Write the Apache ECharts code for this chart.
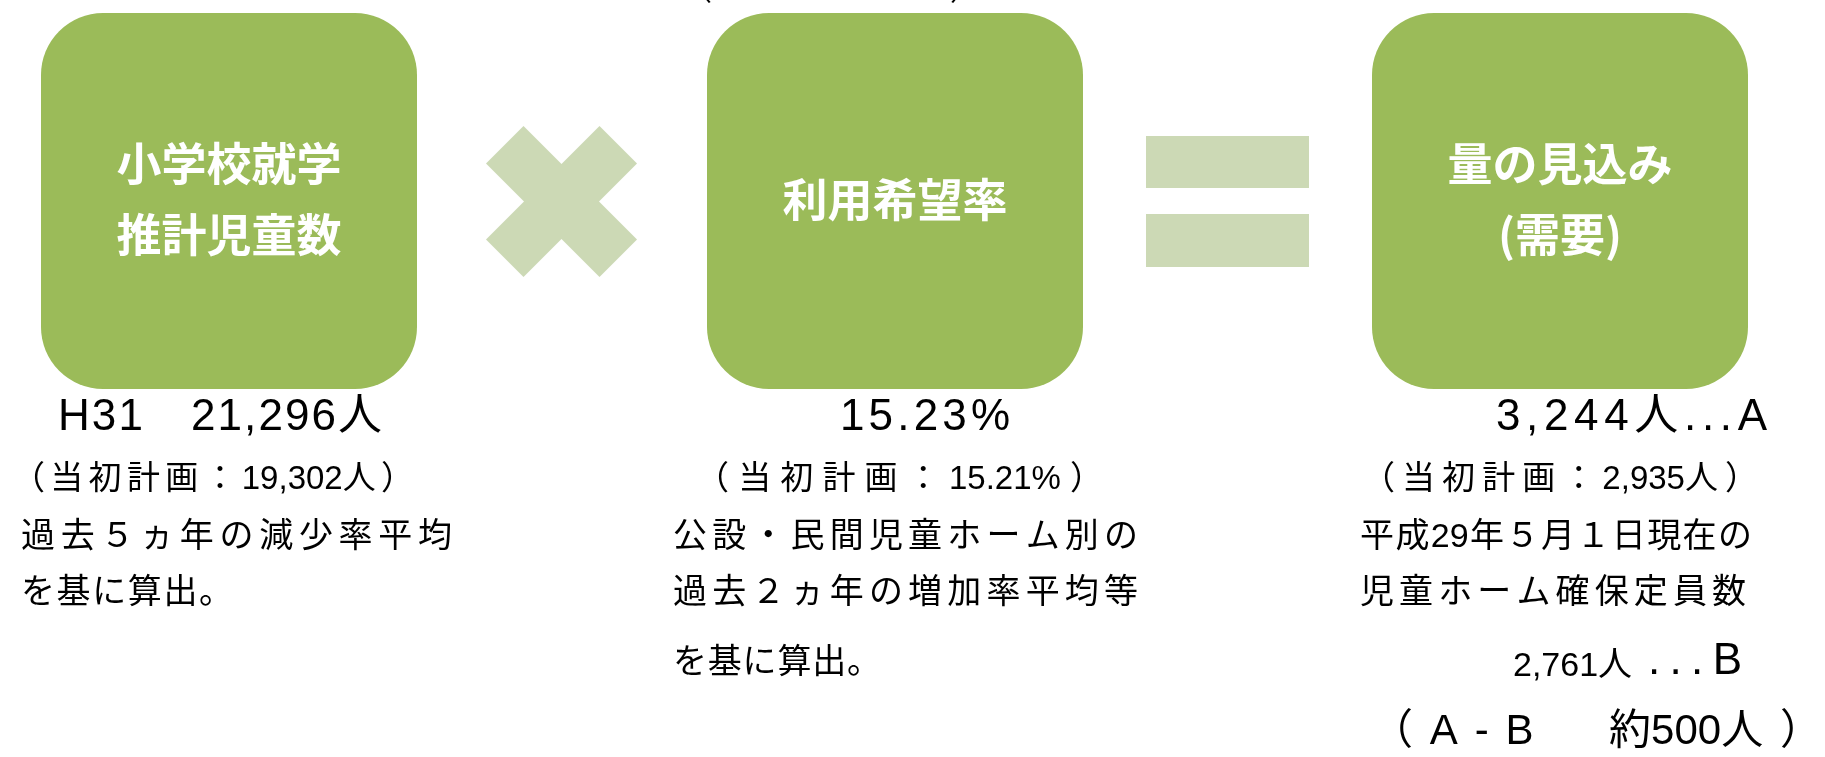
<!DOCTYPE html>
<html>
<head>
<meta charset="utf-8">
<script src="https://cdn.jsdelivr.net/npm/echarts@6/dist/echarts.min.js"></script>
<style>
  html, body { margin: 0; padding: 0; background: #fff; }
  #chart { width: 1825px; height: 757px; }
</style>
</head>
<body>
<div id="chart"></div>
<script>
// 図の文字データ
const boxTitles = [['小学校就学', '推計児童数'], ['利用希望率'], ['量の見込み', '(需要)']];
const mainValues = ['H31　21,296人', '15.23%', '3,244人...A'];
const planValues = ['（当初計画：19,302人）', '（当初計画：15.21%）', '（当初計画：2,935人）'];
const notes = [
  ['過去５ヵ年の減少率平均', 'を基に算出。'],
  ['公設・民間児童ホーム別の', '過去２ヵ年の増加率平均等', 'を基に算出。'],
  ['平成29年５月１日現在の', '児童ホーム確保定員数']
];
const capacityValue = '2,761人';
const capacityMark = '...B';
const gapValue = '（A-B　約500人）';

// レイアウト
const FONT = '"Liberation Sans", "Noto Sans CJK JP", sans-serif';
const boxLeft = [41, 707, 1372];
const boxTop = 13;
const boxSize = 376;
const boxColor = '#9BBB59';
const lightColor = '#CCD9B5';
const titleY = [[164, 235], [200], [164, 235]];
const mainSpan = [[58, 382], [840, 1010], [1496, 1767]];
const planSpan = [[12, 414], [696, 1103], [1362, 1758]];
const noteSpan = [
  [[21, 452], [21, 233]],
  [[673, 1138], [673, 1138], [673, 881]],
  [[1360, 1752], [1360, 1746]]
];
const noteY = [538, 594, 664];

const ctx = document.createElement('canvas').getContext('2d');

// 文字を左右の端に合わせて均等に並べる（数字のかたまりは詰めたまま）
const lineText = (str, left, right, cy, size, spread) => {
  const font = `400 ${size}px ${FONT}`;
  ctx.font = font;
  const parts = spread ? Array.from(str) : str.match(/約?[0-9][0-9,.]*[%人]?|./gu);
  const widths = parts.map(p => ctx.measureText(p).width);
  const total = widths.reduce((a, b) => a + b, 0);
  const gap = parts.length > 1 ? (right - left - total) / (parts.length - 1) : 0;
  let x = left;
  return parts.map((p, i) => {
    const el = {
      type: 'text', x: x, y: cy, silent: true,
      style: { text: p, font: font, fill: '#000', textAlign: 'left', textVerticalAlign: 'middle' }
    };
    x += widths[i] + gap;
    return el;
  });
};

const elements = [];

// 緑の角丸ボックス
boxLeft.forEach((left, i) => {
  elements.push({
    type: 'rect',
    shape: { x: left, y: boxTop, width: boxSize, height: boxSize, r: 62 },
    style: { fill: boxColor }
  });
  boxTitles[i].forEach((t, j) => {
    elements.push({
      type: 'text', x: left + boxSize / 2, y: titleY[i][j],
      style: { text: t, font: `700 45px "Noto Sans CJK JP", sans-serif`, fill: '#fff', textAlign: 'center', textVerticalAlign: 'middle' }
    });
  });
});

// ×記号
const cx = 561.5, cy = 201.5, a = 75.5, b = 38, c = 37.5;
elements.push({
  type: 'polygon',
  shape: {
    points: [[-a, -b], [-b, -a], [0, -c], [b, -a], [a, -b], [c, 0], [a, b], [b, a], [0, c], [-b, a], [-a, b], [-c, 0]]
      .map(p => [cx + p[0], cy + p[1]])
  },
  style: { fill: lightColor }
});

// ＝記号
elements.push({ type: 'rect', shape: { x: 1146, y: 136, width: 163, height: 52 }, style: { fill: lightColor } });
elements.push({ type: 'rect', shape: { x: 1146, y: 214, width: 163, height: 53 }, style: { fill: lightColor } });

// 上端で切れている括弧
elements.push({ type: 'text', x: 682, y: -8, style: { text: '（', font: `400 30px ${FONT}`, fill: '#000', textVerticalAlign: 'middle' } });
elements.push({ type: 'text', x: 950, y: -8, style: { text: '）', font: `400 30px ${FONT}`, fill: '#000', textVerticalAlign: 'middle' } });

// 下の説明文
mainValues.forEach((t, i) => elements.push(...lineText(t, mainSpan[i][0], mainSpan[i][1], 418, 44, true)));
planValues.forEach((t, i) => elements.push(...lineText(t, planSpan[i][0], planSpan[i][1], 480, 33, false)));
notes.forEach((col, i) => col.forEach((t, j) => {
  elements.push(...lineText(t, noteSpan[i][j][0], noteSpan[i][j][1], noteY[j], 34, false));
}));
elements.push(...lineText(capacityValue, 1513, 1640, 667, 34, false));
elements.push(...lineText(capacityMark, 1648, 1742, 662, 44, true));
elements.push(...lineText(gapValue, 1371, 1822, 732, 42, false));

const chart = echarts.init(document.getElementById('chart'));
chart.setOption({
  backgroundColor: '#fff',
  animation: false,
  graphic: { elements: elements }
});
window.addEventListener('resize', () => chart.resize());
</script>
</body>
</html>
